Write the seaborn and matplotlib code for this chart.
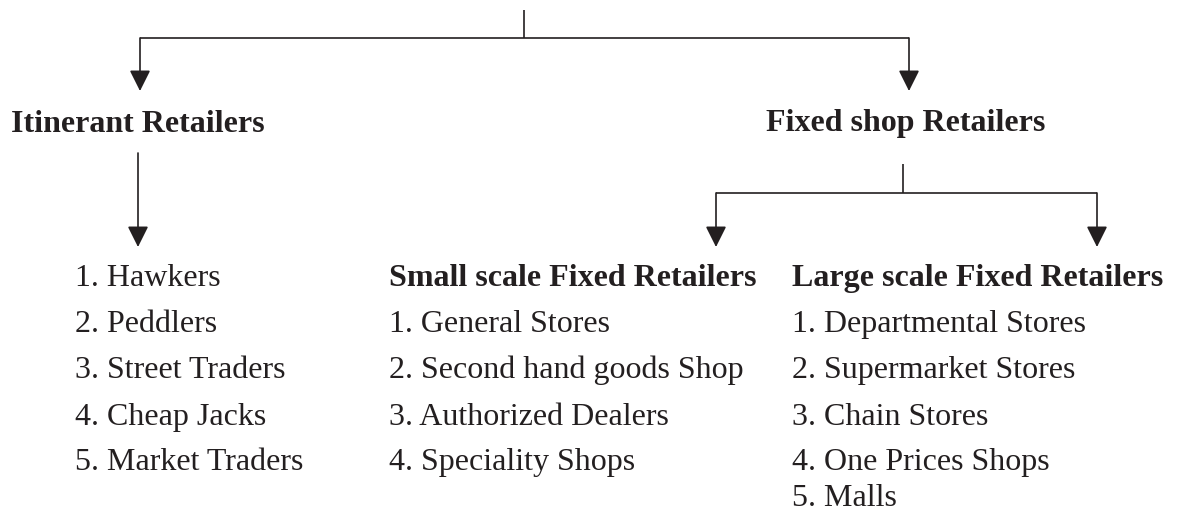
import matplotlib
matplotlib.use('Agg')
import matplotlib.pyplot as plt
import seaborn as sns

# 分类文字
root_children = ['Itinerant Retailers', 'Fixed shop Retailers']
fixed_children = ['Small scale Fixed Retailers', 'Large scale Fixed Retailers']
itinerant_types = ['Hawkers', 'Peddlers', 'Street Traders', 'Cheap Jacks', 'Market Traders']
small_types = ['General Stores', 'Second hand goods Shop', 'Authorized Dealers', 'Speciality Shops']
large_types = ['Departmental Stores', 'Supermarket Stores', 'Chain Stores', 'One Prices Shops', 'Malls']

sns.set_theme(style='white')
plt.rcParams['font.family'] = ['Liberation Serif', 'DejaVu Serif']

INK = '#231f20'
W, H = 1181, 513

fig = plt.figure(figsize=(W / 100, H / 100), dpi=100)
ax = fig.add_axes([0, 0, 1, 1])
ax.set_xlim(0, W)
ax.set_ylim(H, 0)
ax.axis('off')


def line(xs, ys):
    ax.plot(xs, ys, color=INK, lw=1.2, solid_capstyle='butt')


def arrow(x, y0, y1):
    ax.annotate('', xy=(x, y1), xytext=(x, y0),
                arrowprops=dict(arrowstyle='-|>', color=INK, lw=1.2,
                                mutation_scale=32, shrinkA=0, shrinkB=0))


# 第一层连线
line([524, 524], [10, 38])
line([140, 909], [38, 38])
arrow(140, 38, 91)
arrow(909, 38, 91)

head = dict(fontsize=23, fontweight='bold', color=INK, va='baseline')
body = dict(fontsize=23, color=INK, va='baseline')

ax.text(138, 132, root_children[0], ha='center', **head)
ax.text(906, 131, root_children[1], ha='center', **head)

# 流动零售商
arrow(138, 153, 247)
rows = [286, 332, 378, 425, 470, 506]
for i, name in enumerate(itinerant_types):
    ax.text(75, rows[i], f'{i + 1}. {name}', ha='left', **body)

# 固定店铺零售商
line([903, 903], [164, 193])
line([716, 1097], [193, 193])
arrow(716, 193, 247)
arrow(1097, 193, 247)

ax.text(389, rows[0], fixed_children[0], ha='left', **head)
for i, name in enumerate(small_types):
    ax.text(389, rows[i + 1], f'{i + 1}. {name}', ha='left', **body)

ax.text(792, rows[0], fixed_children[1], ha='left', **head)
for i, name in enumerate(large_types):
    ax.text(792, rows[i + 1], f'{i + 1}. {name}', ha='left', **body)

fig.savefig('out.png', dpi=100, facecolor='white')
